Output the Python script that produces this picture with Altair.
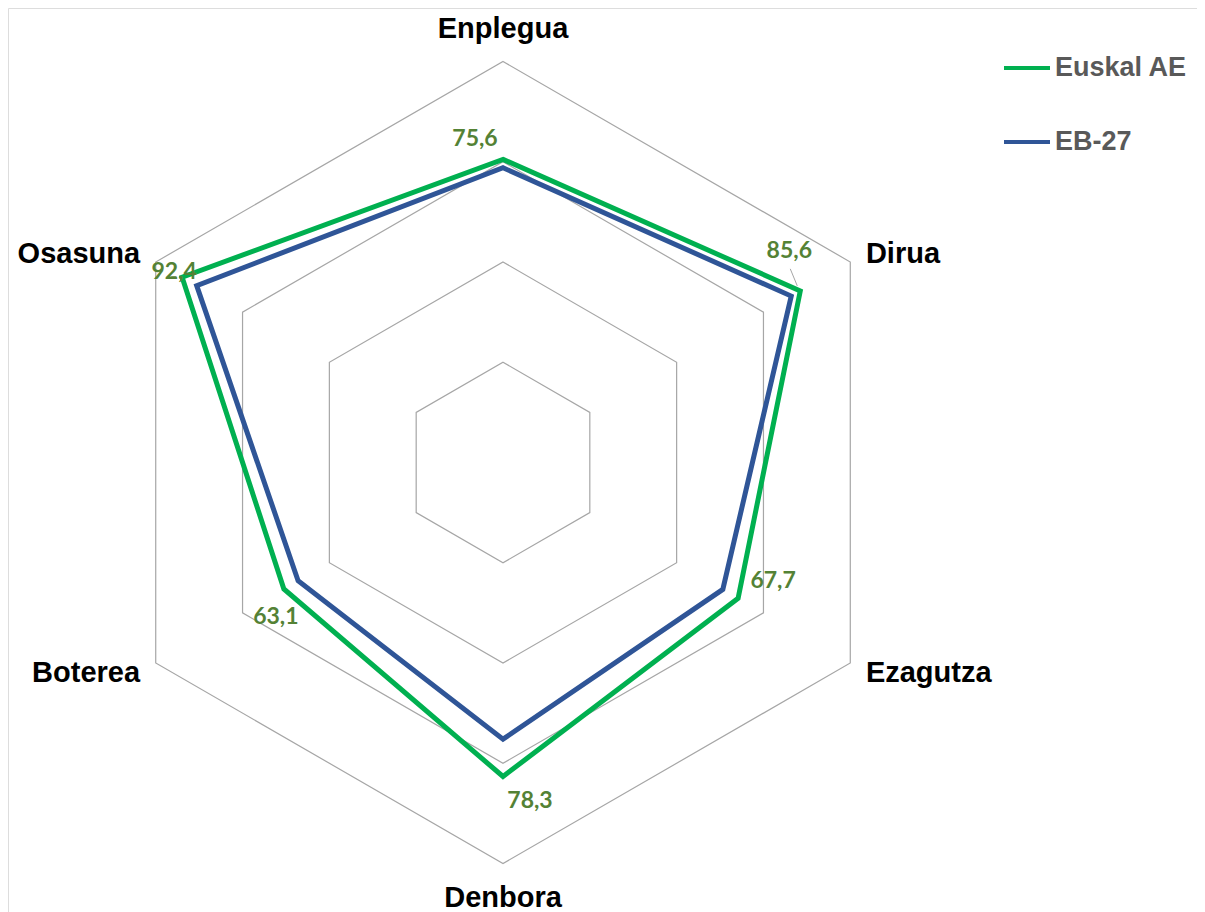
import altair as alt
import pandas as pd

# ---------------- data ----------------
categories = ["Enplegua", "Dirua", "Ezagutza", "Denbora", "Boterea", "Osasuna"]
euskal_ae = [75.6, 85.6, 67.7, 78.3, 63.1, 92.4]
eb_27 = [73.5, 83.0, 63.3, 69.0, 59.0, 88.2]
series_names = ["Euskal AE", "EB-27"]
grid_levels = [25, 50, 75, 100]

# ---------------- style / layout ----------------
GREEN = "#00b050"
BLUE = "#2f5597"
LABEL_GREEN = "#548235"
GRID = "#a6a6a6"
W, H = 1189, 904
CX, CY = 495.0, 454.5          # centre of the radar in plot pixels
PPU = 4.01                      # pixels per value unit
xdom = [-CX / PPU, (W - CX) / PPU]
ydom = [-(H - CY) / PPU, CY / PPU]

rows = []
for name, vals in zip(series_names, [euskal_ae, eb_27]):
    for i, (c, v) in enumerate(zip(categories, vals)):
        rows.append({"series": name, "category": c, "idx": i, "value": v})
df = pd.DataFrame(rows)

grid_df = pd.DataFrame(
    [{"level": lv, "idx": i} for lv in grid_levels for i in range(len(categories))]
)
cat_df = pd.DataFrame({"category": categories, "idx": list(range(len(categories)))})

N = len(categories)
theta_expr = f"datum.idx * 2 * PI / {N}"

X = lambda f: alt.X(f, type="quantitative", scale=alt.Scale(domain=xdom, nice=False, zero=False), axis=None)
Y = lambda f: alt.Y(f, type="quantitative", scale=alt.Scale(domain=ydom, nice=False, zero=False), axis=None)

# grid hexagons
grid = (
    alt.Chart(grid_df)
    .transform_calculate(theta=theta_expr)
    .transform_calculate(gx="datum.level * sin(datum.theta)", gy="datum.level * cos(datum.theta)")
    .mark_line(interpolate="linear-closed", stroke=GRID, strokeWidth=1.2)
    .encode(x=X("gx"), y=Y("gy"), detail="level:N", order="idx:Q")
)

# series polygons
base = alt.Chart(df).transform_calculate(theta=theta_expr).transform_calculate(
    px="datum.value * sin(datum.theta)", py="datum.value * cos(datum.theta)"
)

lines = base.mark_line(interpolate="linear-closed", strokeWidth=5).encode(
    x=X("px"),
    y=Y("py"),
    order="idx:Q",
    color=alt.Color(
        "series:N",
        scale=alt.Scale(domain=series_names, range=[GREEN, BLUE]),
        legend=alt.Legend(
            title=None,
            orient="none",
            legendX=994,
            legendY=35,
            symbolType="stroke",
            symbolSize=2116,
            symbolStrokeWidth=4,
            labelFont="Liberation Sans",
            labelFontSize=27,
            labelFontWeight="bold",
            labelColor="#595959",
            labelOffset=3,
            rowPadding=36,
            padding=0,
        ),
    ),
)

# value labels of Euskal AE (individual offsets like the original placement)
label_offsets = {
    "Enplegua": (-28, -20),
    "Dirua": (-11, -40),
    "Ezagutza": (35, -17),
    "Denbora": (27, 25),
    "Boterea": (-8, 28),
    "Osasuna": (-8, -5),
}
value_layers = []
for c in categories:
    dx, dy = label_offsets[c]
    value_layers.append(
        base.transform_filter(f"datum.series == '{series_names[0]}' && datum.category == '{c}'")
        .transform_calculate(lab="replace(format(datum.value, '.1f'), '.', ',')")
        .mark_text(
            font="Lato", fontSize=23, fontWeight="bold", color=LABEL_GREEN,
            align="center", baseline="middle", dx=dx, dy=dy,
        )
        .encode(x=X("px"), y=Y("py"), text="lab:N")
    )

# leader line for Dirua label
leader = (
    base.transform_filter(f"datum.series == '{series_names[0]}' && datum.category == 'Dirua'")
    .transform_calculate(
        lx1=f"datum.px - {10 / PPU}", ly1=f"datum.py + {22 / PPU}",
        lx2=f"datum.px - {3 / PPU}", ly2=f"datum.py + {5 / PPU}",
    )
    .mark_rule(color=GRID, strokeWidth=1)
    .encode(x=X("lx1"), y=Y("ly1"), x2="lx2:Q", y2="ly2:Q")
)

# category labels
cat_base = alt.Chart(cat_df).transform_calculate(theta=theta_expr).transform_calculate(
    s="sin(datum.theta)", c="cos(datum.theta)"
).transform_calculate(
    r="abs(datum.s) < 0.1 ? 108.4 : 104.5"
).transform_calculate(
    lx="datum.r * datum.s", ly="datum.r * datum.c"
)
cat_style = dict(font="Liberation Sans", fontSize=29, fontWeight="bold", color="#000000", baseline="middle", dy=1)
cat_center = cat_base.transform_filter("abs(datum.s) < 0.1").mark_text(align="center", **cat_style).encode(
    x=X("lx"), y=Y("ly"), text="category:N")
cat_right = cat_base.transform_filter("datum.s >= 0.1").mark_text(align="left", **cat_style).encode(
    x=X("lx"), y=Y("ly"), text="category:N")
cat_left = cat_base.transform_filter("datum.s <= -0.1").mark_text(align="right", **cat_style).encode(
    x=X("lx"), y=Y("ly"), text="category:N")

chart = (
    alt.layer(grid, lines, leader, *value_layers, cat_center, cat_right, cat_left)
    .properties(width=W, height=H, autosize=alt.AutoSizeParams(type="none"), padding=0)
    .configure_view(stroke="transparent", strokeWidth=0)
    .configure(background="white")
)

chart.save("out.html", embed_options={"renderer": "svg", "actions": False})
